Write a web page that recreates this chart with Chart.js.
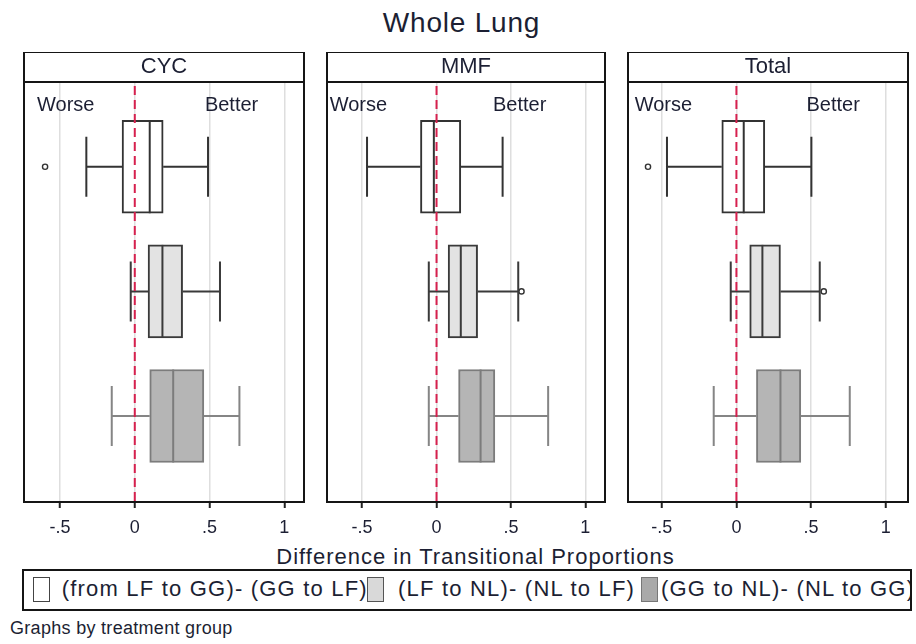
<!DOCTYPE html>
<html>
<head>
<meta charset="utf-8">
<script src="https://cdn.jsdelivr.net/npm/chart.js@4.4.1/dist/chart.umd.min.js"></script>
<style>
html,body{margin:0;padding:0;background:#fff;}
body{width:916px;height:644px;position:relative;overflow:hidden;font-family:"Liberation Sans",Arial,sans-serif;color:#1c1f33;}
.abs{position:absolute;white-space:nowrap;}
canvas{position:absolute;}
#title{left:0;width:923px;top:9px;text-align:center;font-size:28px;line-height:28px;letter-spacing:0.8px;}
#xtitle{left:0;width:951px;top:546px;text-align:center;font-size:22px;line-height:22px;letter-spacing:1px;}
#legend{position:absolute;left:22px;top:569px;width:890px;height:42px;border:2px solid #151515;box-sizing:border-box;overflow:hidden;}
.sw{position:absolute;top:6px;width:17px;height:25px;box-sizing:border-box;border:1.5px solid #444;}
.lt{position:absolute;top:7px;font-size:22px;line-height:22px;letter-spacing:1.2px;white-space:nowrap;}
#note{left:10px;top:619px;font-size:18px;line-height:18px;letter-spacing:0.3px;}
</style>
</head>
<body>
<div id="title" class="abs"></div>
<canvas id="c0" width="300" height="490" style="left:14px;top:52px"></canvas>
<canvas id="c1" width="298" height="490" style="left:317px;top:52px"></canvas>
<canvas id="c2" width="300" height="490" style="left:618px;top:52px"></canvas>
<div id="xtitle" class="abs"></div>
<div id="legend"></div>
<div id="note" class="abs"></div>
<script>
// ---------------- data ----------------
const MAIN_TITLE = 'Whole Lung';
const X_TITLE = 'Difference in Transitional Proportions';
const NOTE = 'Graphs by treatment group';
const PANELS = ['CYC', 'MMF', 'Total'];
const SERIES = ['(from LF to GG)- (GG to LF)', '(LF to NL)- (NL to LF)', '(GG to NL)- (NL to GG)'];
const TICK_VALUES = [-0.5, 0, 0.5, 1];
const TICK_LABELS = ['-.5', '0', '.5', '1'];
const REF_VALUE = 0;
const ANNOT_TEXT = ['Worse', 'Better'];

// rows: panel (CYC, MMF, Total); columns: series 1..3
const WHISKER_LOW  = [[-0.324, -0.027, -0.154], [-0.467, -0.052, -0.052], [-0.465, -0.038, -0.152]];
const Q1           = [[-0.085,  0.089,  0.100], [-0.108,  0.078,  0.148], [-0.098,  0.089,  0.134]];
const MEDIAN       = [[ 0.100,  0.185,  0.257], [-0.018,  0.163,  0.296], [ 0.049,  0.174,  0.295]];
const Q3           = [[ 0.190,  0.320,  0.462], [ 0.163,  0.276,  0.392], [ 0.190,  0.295,  0.431]];
const WHISKER_HIGH = [[ 0.490,  0.570,  0.700], [ 0.444,  0.549,  0.750], [ 0.502,  0.558,  0.759]];
const OUTLIERS     = [[[-0.600], [], []], [[], [0.571], []], [[-0.592], [0.585], []]];

// ---------------- layout / style ----------------
const FONT = '"Liberation Sans", Arial, sans-serif';
const TEXT_COLOR = '#1c1f33';
const X_MIN = [-0.741, -0.736, -0.726];
const X_MAX = [1.132, 1.132, 1.149];
const ANNOT_X = [[-0.654, 0.469], [-0.718, 0.379], [-0.681, 0.469]];
const BOX_FILL = ['#ffffff', '#e3e3e3', '#b5b5b5'];
const BOX_EDGE = ['#333333', '#3a3a3a', '#7c7c7c'];
const WHISK_COLOR = ['#333333', '#3a3a3a', '#858585'];
const SW_FILL = ['#ffffff', '#d9d9d9', '#a9a9a9'];
const SW_EDGE = ['#444', '#555', '#777'];
const CAP_HALF = 30;

document.getElementById('title').textContent = MAIN_TITLE;
document.getElementById('xtitle').textContent = X_TITLE;
document.getElementById('note').textContent = NOTE;

const legend = document.getElementById('legend');
const SW_LEFT = [8.7, 342.7, 617];
const LT_LEFT = [37.7, 374, 637];
SERIES.forEach((name, s) => {
  const sw = document.createElement('div');
  sw.className = 'sw';
  sw.style.left = SW_LEFT[s] + 'px';
  sw.style.background = SW_FILL[s];
  sw.style.borderColor = SW_EDGE[s];
  legend.appendChild(sw);
  const t = document.createElement('div');
  t.className = 'lt';
  t.style.left = LT_LEFT[s] + 'px';
  t.textContent = name;
  legend.appendChild(t);
});

const boxExtras = {
  id: 'boxExtras',
  afterDatasetsDraw(chart) {
    const p = chart.options.plugins.boxExtras.panel;
    const {ctx, chartArea: a} = chart;
    const x = chart.scales.x, y = chart.scales.y;
    ctx.save();
    ctx.lineWidth = 2;
    ctx.lineCap = 'butt';
    for (let s = 0; s < SERIES.length; s++) {
      const yc = y.getPixelForValue(s + 1);
      const meta = chart.getDatasetMeta(0);
      const bar = meta.data[s];
      const half = bar.height / 2;
      const xl = x.getPixelForValue(WHISKER_LOW[p][s]);
      const x1 = x.getPixelForValue(Q1[p][s]);
      const xm = x.getPixelForValue(MEDIAN[p][s]);
      const x3 = x.getPixelForValue(Q3[p][s]);
      const xh = x.getPixelForValue(WHISKER_HIGH[p][s]);
      ctx.strokeStyle = WHISK_COLOR[s];
      ctx.beginPath();
      ctx.moveTo(xl, yc); ctx.lineTo(x1, yc);
      ctx.moveTo(x3, yc); ctx.lineTo(xh, yc);
      ctx.moveTo(xl, yc - CAP_HALF); ctx.lineTo(xl, yc + CAP_HALF);
      ctx.moveTo(xh, yc - CAP_HALF); ctx.lineTo(xh, yc + CAP_HALF);
      ctx.stroke();
      ctx.strokeStyle = BOX_EDGE[s];
      ctx.beginPath();
      ctx.moveTo(xm, yc - half); ctx.lineTo(xm, yc + half);
      ctx.stroke();
    }
    // reference line
    const x0 = x.getPixelForValue(REF_VALUE);
    ctx.strokeStyle = '#d6204e';
    ctx.lineWidth = 2;
    ctx.setLineDash([9, 5]);
    ctx.beginPath();
    ctx.moveTo(x0, a.top + 4); ctx.lineTo(x0, a.bottom);
    ctx.stroke();
    ctx.setLineDash([]);
    // annotations
    ctx.fillStyle = TEXT_COLOR;
    ctx.font = '20px ' + FONT;
    ctx.textAlign = 'left';
    ctx.textBaseline = 'alphabetic';
    ANNOT_TEXT.forEach((t, i) => {
      ctx.fillText(t, x.getPixelForValue(ANNOT_X[p][i]), a.top + 28.5);
    });
    // frame + header box
    ctx.strokeStyle = '#151515';
    ctx.lineWidth = 2;
    ctx.strokeRect(a.left, a.top, a.right - a.left, a.bottom - a.top);
    ctx.strokeRect(a.left, a.top - 30, a.right - a.left, 30);
    ctx.restore();
  }
};

PANELS.forEach((name, p) => {
  const outl = [];
  OUTLIERS[p].forEach((arr, s) => arr.forEach(v => outl.push({x: v, y: s + 1})));
  new Chart(document.getElementById('c' + p), {
    type: 'bar',
    data: {
      datasets: [{
        type: 'bar',
        indexAxis: 'y',
        data: SERIES.map((_, s) => ({x: [Q1[p][s], Q3[p][s]], y: s + 1})),
        backgroundColor: BOX_FILL,
        borderColor: BOX_EDGE,
        borderWidth: 2,
        borderSkipped: false,
        barThickness: 93
      }, {
        type: 'scatter',
        data: outl,
        pointStyle: 'circle',
        pointRadius: 2.6,
        pointBorderWidth: 1.4,
        pointBorderColor: '#333',
        pointBackgroundColor: '#fff'
      }]
    },
    options: {
      responsive: false,
      animation: false,
      events: [],
      indexAxis: 'y',
      layout: {padding: {left: 10, right: 10, top: 0, bottom: 0}},
      plugins: {
        legend: {display: false},
        tooltip: {enabled: false},
        title: {
          display: true, text: name, color: TEXT_COLOR,
          font: {family: FONT, size: 22, weight: 'normal', lineHeight: 1.2},
          padding: {top: 2, bottom: 1.6}
        },
        boxExtras: {panel: p}
      },
      scales: {
        x: {
          type: 'linear', position: 'bottom', offset: false,
          min: X_MIN[p], max: X_MAX[p],
          afterBuildTicks: sc => { sc.ticks = TICK_VALUES.map(v => ({value: v})); },
          afterFit: sc => { sc.height = 40; },
          ticks: {
            callback: (v, i) => TICK_LABELS[i],
            font: {family: FONT, size: 18},
            color: TEXT_COLOR,
            padding: 9,
            maxRotation: 0
          },
          grid: {color: '#dedede', lineWidth: 1.5, tickColor: '#222', tickLength: 6, tickWidth: 2, offset: false},
          border: {display: true, color: '#151515', width: 2}
        },
        y: {
          type: 'linear', reverse: true, display: false, offset: false,
          grid: {offset: false},
          min: 0.32, max: 3.69
        }
      }
    },
    plugins: [boxExtras]
  });
});
</script>
</body>
</html>
